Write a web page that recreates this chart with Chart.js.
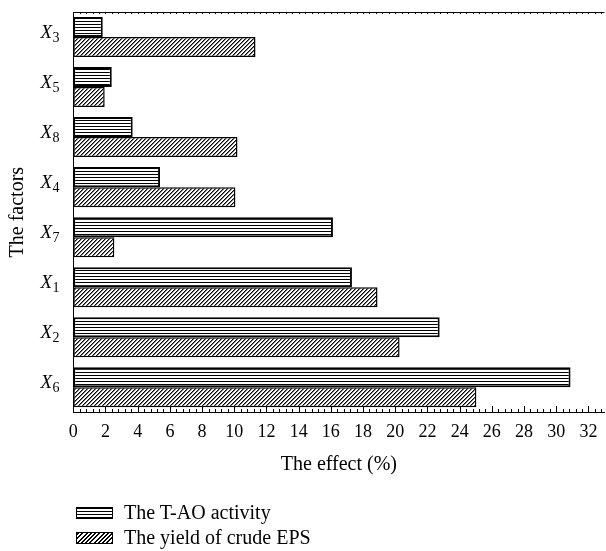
<!DOCTYPE html>
<html><head><meta charset="utf-8">
<script src="https://cdn.jsdelivr.net/npm/chart.js@4.4.0/dist/chart.umd.min.js"></script>
<style>
html,body{margin:0;padding:0;background:#fff;}
#wrap{position:relative;width:606px;height:551px;}
#legend{position:absolute;left:76px;top:500px;font-family:"Liberation Serif",serif;font-size:20px;color:#000;}
.item{display:flex;align-items:center;height:25px;}
.box{width:37px;height:12px;border:1.5px solid #000;margin-right:11px;box-sizing:border-box;}
.h{background:repeating-linear-gradient(to bottom,#000 0 1px,#fff 1px 3px);}
.d{background:repeating-linear-gradient(-45deg,#000 0 1.4px,#fff 1.4px 3px);}
</style></head><body>
<div id="wrap"><canvas id="c" width="606" height="551"></canvas>
<div id="legend"></div></div>
<script>
// ---- data ----
const factors = ['X3','X5','X8','X4','X7','X1','X2','X6'];
const taoActivity = [1.83, 2.39, 3.69, 5.39, 16.13, 17.31, 22.76, 30.89];
const epsYield = [11.32, 1.95, 10.2, 10.07, 2.55, 18.9, 20.27, 25.04];
const seriesNames = ['The T-AO activity', 'The yield of crude EPS'];
const xTickLabels = [0,2,4,6,8,10,12,14,16,18,20,22,24,26,28,30,32];
const xTitle = 'The effect (%)';
const yTitle = 'The factors';

const SERIF = '"Liberation Serif", "DejaVu Serif", serif';
const canvas = document.getElementById('c');
const ctx = canvas.getContext('2d');

function hPattern(){
  const c = document.createElement('canvas'); c.width = 4; c.height = 3;
  const g = c.getContext('2d');
  g.fillStyle = '#fff'; g.fillRect(0,0,4,3);
  g.fillStyle = '#000'; g.fillRect(0,0,4,1);
  return ctx.createPattern(c,'repeat');
}
function dPattern(){
  const c = document.createElement('canvas'); c.width = 4; c.height = 4;
  const g = c.getContext('2d');
  g.fillStyle = '#fff'; g.fillRect(0,0,4,4);
  g.fillStyle = '#000';
  for (let i=0;i<4;i++) g.fillRect(3-i, i, 1, 1);
  g.fillStyle = '#777';
  for (let i=0;i<4;i++) g.fillRect((4-i)%4, i, 1, 1);
  return ctx.createPattern(c,'repeat');
}

const decor = {
  id: 'decor',
  afterDraw(chart){
    const c = chart.ctx, a = chart.chartArea, xs = chart.scales.x, ys = chart.scales.y;
    c.save();
    c.strokeStyle = '#000'; c.lineWidth = 1;
    c.beginPath();
    c.moveTo(a.left, Math.round(a.top)+0.5); c.lineTo(a.right, Math.round(a.top)+0.5);
    c.stroke();
    c.beginPath();
    for (let k=0; k*0.4 <= xs.max+1e-9; k++){
      const v = k*0.4;
      const px = Math.round(xs.getPixelForValue(v))+0.5;
      const major = (k % 5 === 0);
      const yb = Math.round(a.bottom);
      c.moveTo(px, yb); c.lineTo(px, yb - (major ? 6 : 3));
      const yt = Math.round(a.top);
      c.moveTo(px, yt); c.lineTo(px, yt + 2);
    }
    c.stroke();
    c.fillStyle = '#000';
    c.textBaseline = 'alphabetic';
    factors.forEach((f, i) => {
      const yc = ys.getPixelForValue(i);
      const main = f.charAt(0), sub = f.slice(1);
      c.font = 'italic 19px ' + SERIF;
      const wm = c.measureText(main).width;
      c.font = '14px ' + SERIF;
      const wsub = c.measureText(sub).width;
      const right = 59;
      const x0 = right - wsub - wm;
      c.font = 'italic 19px ' + SERIF;
      c.textAlign = 'left';
      c.fillText(main, x0, yc + 1);
      c.font = '14px ' + SERIF;
      c.fillText(sub, x0 + wm + 0.5, yc + 5);
    });
    c.restore();
  }
};

new Chart(canvas, {
  type: 'bar',
  data: {
    labels: factors,
    datasets: [
      { label: seriesNames[0], data: taoActivity, backgroundColor: hPattern(), borderColor: '#000', borderWidth: 2, borderSkipped: false, categoryPercentage: 0.8, barPercentage: 1.0 },
      { label: seriesNames[1], data: epsYield, backgroundColor: dPattern(), borderColor: '#000', borderWidth: 1.5, borderSkipped: false, categoryPercentage: 0.8, barPercentage: 1.0 }
    ]
  },
  options: {
    indexAxis: 'y',
    responsive: false,
    animation: false,
    devicePixelRatio: 1,
    layout: { padding: { top: 12, right: 1.5, left: 0, bottom: 0 } },
    plugins: { legend: { display: false }, tooltip: { enabled: false } },
    scales: {
      x: {
        min: 0, max: 33,
        ticks: { stepSize: 2, color: '#000', font: { family: SERIF, size: 18 }, padding: 9, maxRotation: 0, autoSkip: false },
        afterBuildTicks: s => { s.ticks = xTickLabels.map(v => ({ value: v })); },
        grid: { display: false, drawTicks: false },
        border: { display: true, color: '#000', width: 1 },
        title: { display: true, text: xTitle, color: '#000', font: { family: SERIF, size: 20 }, padding: { top: 0, bottom: 74 } },
        afterFit: s => { s.height = 138.7; s.paddingRight = 0; s.paddingLeft = 0; }
      },
      y: {
        ticks: { display: false },
        grid: { display: false, drawTicks: false },
        border: { display: true, color: '#000', width: 1 },
        title: { display: true, text: yTitle, color: '#000', font: { family: SERIF, size: 20 }, padding: { top: 6, bottom: 0 } },
        afterFit: s => { s.width = 73.3; s.paddingTop = 0; s.paddingBottom = 0; }
      }
    }
  },
  plugins: [decor]
});

const legend = document.getElementById('legend');
seriesNames.forEach((n, i) => {
  const it = document.createElement('div'); it.className = 'item';
  const b = document.createElement('span'); b.className = 'box ' + (i === 0 ? 'h' : 'd');
  const t = document.createElement('span'); t.textContent = n;
  it.appendChild(b); it.appendChild(t); legend.appendChild(it);
});
</script>
</body></html>
